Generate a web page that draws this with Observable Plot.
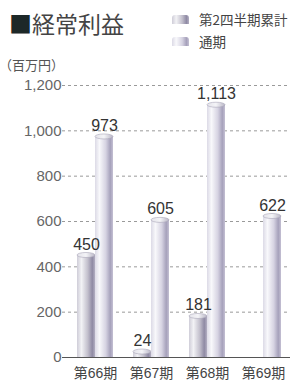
<!DOCTYPE html>
<html>
<head>
<meta charset="utf-8">
<script src="https://cdn.jsdelivr.net/npm/d3@7"></script>
<script src="https://cdn.jsdelivr.net/npm/@observablehq/plot@0.6"></script>
<style>
  html, body { margin: 0; padding: 0; background: #fff; }
  #wrap { width: 290px; height: 383px; overflow: hidden; position: relative; font-family: "Noto Sans CJK JP", sans-serif; }
  #head { position: relative; height: 80px; width: 290px; }
  .title { position: absolute; left: 9px; top: 8px; font-size: 23px; line-height: 30px; color: #444; white-space: nowrap; }
  .title .sq { color: #1d2828; }
  .leg { position: absolute; left: 172px; font-size: 13.5px; line-height: 16px; color: #444; white-space: nowrap; }
  .leg i { display: inline-block; width: 17px; height: 9px; margin-right: 10px; vertical-align: 1px; border-radius: 3px 3px 0 0; }
  .unit { position: absolute; left: -1px; top: 57px; font-size: 13px; line-height: 16px; color: #555; white-space: nowrap; }
  svg { display: block; }
</style>
</head>
<body>
<div id="wrap">
  <div id="head">
    <div class="title"><span class="sq">■</span>経常利益</div>
    <div class="leg" id="leg0" style="top:11px"></div>
    <div class="leg" id="leg1" style="top:33px"></div>
    <div class="unit" id="unit"></div>
  </div>
  <div id="chart"></div>
</div>
<script>
const periods = ["第66期", "第67期", "第68期", "第69期"];
const seriesNames = ["第2四半期累計", "通期"];
const q2Values = [450, 24, 181, null];
const fullValues = [973, 605, 1113, 622];
const yTicks = [0, 200, 400, 600, 800, 1000, 1200];
const unitLabel = "（百万円）";

const q2Data = periods.map((p, i) => ({period: p, series: seriesNames[0], value: q2Values[i]})).filter(d => d.value != null);
const fullData = periods.map((p, i) => ({period: p, series: seriesNames[1], value: fullValues[i]}));

const q2Grad = "linear-gradient(90deg,#cfcdd8 0%,#f2f2f5 25%,#c2bfcc 60%,#8f8aa4 85%,#b3afc2 100%)";
const fullGrad = "linear-gradient(90deg,#dcdae6 0%,#f8f8fb 25%,#d6d3e2 60%,#a6a1bb 85%,#c4c0d3 100%)";
document.getElementById("leg0").innerHTML = `<i style="background:${q2Grad}"></i>${seriesNames[0]}`;
document.getElementById("leg1").innerHTML = `<i style="background:${fullGrad}"></i>${seriesNames[1]}`;
document.getElementById("unit").textContent = unitLabel;

const numFont = "'Liberation Sans', 'Noto Sans CJK JP', sans-serif";
const fmt = d3.format(",");

const chart = Plot.plot({
  width: 290,
  height: 303,
  marginTop: 5,
  marginBottom: 26,
  marginLeft: 62,
  marginRight: 0,
  style: {fontFamily: numFont, background: "transparent", overflow: "visible"},
  x: {type: "band", domain: periods, range: [66, 292.5], paddingInner: 0.365, paddingOuter: 0.1825, label: null},
  y: {domain: [0, 1200], label: null},
  marks: [
    Plot.ruleY(yTicks.filter(d => d > 0), {stroke: "#9a9a9a", strokeWidth: 1, strokeDasharray: "3,3"}),
    Plot.barY(q2Data, {x: "period", y: "value", fill: "url(#gQ2)", insetRight: 18, className: "cyl"}),
    Plot.barY(fullData, {x: "period", y: "value", fill: "url(#gFull)", insetLeft: 18, className: "cyl"}),
    Plot.ruleY([0], {stroke: "#555", strokeWidth: 1.2}),
    Plot.text(q2Data, {x: "period", y: "value", text: d => fmt(d.value), dx: -9, dy: -6, lineAnchor: "bottom", fontSize: 16, fill: "#333"}),
    Plot.text(fullData, {x: "period", y: "value", text: d => fmt(d.value), dx: 9, dy: -6, lineAnchor: "bottom", fontSize: 16, fill: "#333"}),
    Plot.axisY({ticks: yTicks, tickSize: 0, tickPadding: 1, tickFormat: fmt, fontSize: 15, fill: "#666", label: null}),
    Plot.axisX({tickSize: 0, tickPadding: 11, fontSize: 14, fill: "#444", label: null})
  ]
});

// gradients for cylinder-like bars
const svg = d3.select(chart);
const defs = svg.insert("defs", ":first-child");
function grad(id, stops) {
  const g = defs.append("linearGradient").attr("id", id).attr("x1", 0).attr("x2", 1).attr("y1", 0).attr("y2", 0);
  stops.forEach(([o, c]) => g.append("stop").attr("offset", o).attr("stop-color", c));
}
grad("gQ2", [[0, "#cfcdd8"], [0.25, "#f2f2f5"], [0.6, "#c2bfcc"], [0.85, "#8f8aa4"], [1, "#b3afc2"]]);
grad("gFull", [[0, "#dcdae6"], [0.25, "#f8f8fb"], [0.6, "#d6d3e2"], [0.85, "#a6a1bb"], [1, "#c4c0d3"]]);
grad("gCap", [[0, "#e4e3ea"], [0.5, "#f4f4f7"], [1, "#b9b6c6"]]);

svg.selectAll("g.cyl").each(function() {
  const g = d3.select(this);
  g.selectAll("rect").each(function() {
    const r = d3.select(this);
    const x = +r.attr("x"), y = +r.attr("y"), w = +r.attr("width");
    g.append("ellipse").attr("cx", x + w / 2).attr("cy", y).attr("rx", w / 2).attr("ry", 2.5)
      .attr("fill", "url(#gCap)").attr("stroke", "#aaa6b8").attr("stroke-width", 0.6);
  });
});

document.getElementById("chart").appendChild(chart);
</script>
</body>
</html>
